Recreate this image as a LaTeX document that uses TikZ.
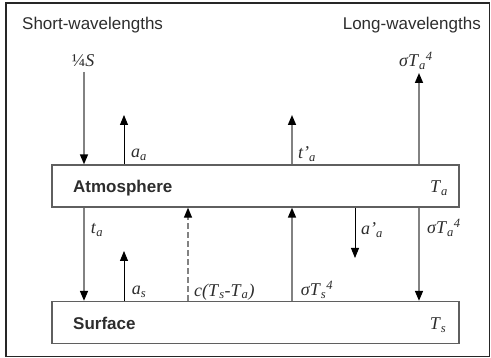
\documentclass[tikz,border=0pt]{standalone}
\usepackage{fontspec}
\setmainfont{Liberation Serif}
\setsansfont{Liberation Sans}
\usetikzlibrary{arrows.meta}
\definecolor{boxgray}{RGB}{95,95,95}
\definecolor{arrgray}{RGB}{130,130,130}
\definecolor{txt}{RGB}{45,45,45}
\newcommand\il[1]{\textit{#1}}
\newcommand\sbi[1]{\textsubscript{\textit{#1}}}
\newcommand\spi[1]{\textsuperscript{\textit{#1}}}
\begin{document}
\begin{tikzpicture}[x=1pt,y=-1pt,
  box/.style={draw=boxgray, line width=1.3pt, minimum width=407pt, minimum height=42pt, inner sep=0pt},
  head/.style={font=\sffamily\fontsize{17}{20}\selectfont, text=txt, inner sep=0pt},
  boxname/.style={font=\sffamily\bfseries\fontsize{17}{20}\selectfont, text=txt, inner sep=0pt, anchor=west},
  lbl/.style={font=\fontsize{18}{21}\selectfont, text=txt, inner sep=0pt},
  tip/.style={-{Triangle[width=8pt,length=10pt,color=black]}},
  garr/.style={tip, draw=arrgray, line width=1.5pt},
  barr/.style={tip, draw=black, line width=0.9pt},
  darr/.style={tip, draw=arrgray, line width=1.2pt, dash pattern=on 6pt off 3pt}]
\useasboundingbox (0,0) rectangle (491,358);
\draw[line width=1.3pt, draw=black!85] (6,3) rectangle (489.6,356.5);

\node[head, anchor=west] (sw) at (22,25) {Short-wavelengths};
\node[head, anchor=east] (lw) at (481,25) {Long-wavelengths};

\node[box] (atm) at (255.5,186) {};
\node[box] (srf) at (255.5,322.5) {};
\node[boxname] (atmn) at (73,188) {Atmosphere};
\node[boxname] (srfn) at (73,323) {Surface};
\node[lbl] (Ta) at (439,188) {\il{T}\sbi{a}};
\node[lbl] (Ts) at (438,325) {\il{T}\sbi{s}};

% free ends
\coordinate (sIn) at (84,72);
\coordinate (aaTop) at (124,115);
\coordinate (tpTop) at (292,115);
\coordinate (olrTop) at (419,73);
\coordinate (asTop) at (124,251);
\coordinate (xc) at (188,0);
\coordinate (xs) at (292,0);
\coordinate (xt) at (84,0);
\coordinate (xl) at (419,0);
\coordinate (apBot) at (355,258);

\draw[garr] (sIn) -- (sIn |- atm.north);
\draw[barr] (aaTop |- atm.north) -- (aaTop);
\draw[garr] (tpTop |- atm.north) -- (tpTop);
\draw[garr] (olrTop |- atm.north) -- (olrTop);

\draw[garr] (xt |- atm.south) -- (xt |- srf.north);
\draw[barr] (asTop |- srf.north) -- (asTop);
\draw[darr] (xc |- srf.north) -- (xc |- atm.south);
\draw[garr] (xs |- srf.north) -- (xs |- atm.south);
\draw[barr] (apBot |- atm.south) -- (apBot);
\draw[garr] (xl |- atm.south) -- (xl |- srf.north);

\node[lbl] (lS) at (83,61) {¼\il{S}};
\node[lbl] (laa) at (139,155) {\il{a}\sbi{a}};
\node[lbl] (ltp) at (307,154) {\il{t'}\sbi{a}};
\node[lbl] (lolr) at (416,61) {\il{σT}\sbi{a}\spi{4}};
\node[lbl] (lta) at (97,230) {\il{t}\sbi{a}};
\node[lbl] (las) at (139,292) {\il{a}\sbi{s}};
\node[lbl, anchor=west] (lc) at (194,292) {\il{c(T}\sbi{s}\il{-T}\sbi{a}\il{)}};
\node[lbl] (lss) at (317,290) {\il{σT}\sbi{s}\spi{4}};
\node[lbl] (lap) at (372,230) {\il{a'}\sbi{a}};
\node[lbl] (lsa) at (444,228) {\il{σT}\sbi{a}\spi{4}};
\end{tikzpicture}
\end{document}
